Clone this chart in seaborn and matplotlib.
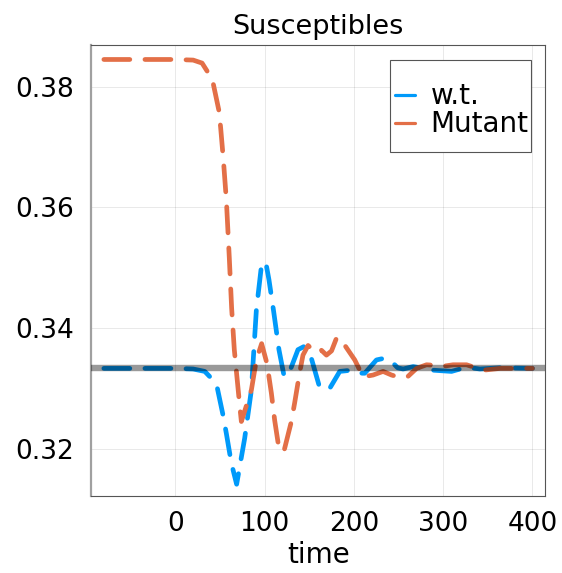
import numpy as np
import pandas as pd
import matplotlib
matplotlib.use("Agg")
import matplotlib.pyplot as plt
from matplotlib.lines import Line2D
from matplotlib.patches import Rectangle
import seaborn as sns

# ---- data ----
wt_time = [-80, 0, 20, 33, 46, 53.4, 57.2, 62.8, 68.7, 77.7, 85.2, 90.8, 96.4, 101.2,
           104.9, 110.2, 116.1, 122, 128.1, 137.4, 143.8, 150.6, 161, 167.4, 173, 184.2,
           197.3, 204.4, 212.2, 225.3, 234.6, 242.5, 249, 255.2, 266.4, 288.8, 309.4,
           326.2, 341.1, 363.6, 400]
wt_S = [0.3333, 0.3333, 0.3332, 0.3328, 0.3308, 0.3256, 0.3225, 0.3176, 0.3141, 0.3217,
        0.3297, 0.3430, 0.3502, 0.3510, 0.3480, 0.3427, 0.3364, 0.3319, 0.3328, 0.3364,
        0.3369, 0.3359, 0.3305, 0.3297, 0.3300, 0.3328, 0.3330, 0.3325, 0.3325, 0.3347,
        0.3350, 0.3344, 0.3334, 0.3332, 0.3336, 0.3330, 0.3328, 0.3335, 0.3332, 0.3334,
        0.3333]

mut_time = [-80, 0, 20, 30, 41.5, 48.9, 50.8, 53.8, 57.2, 60.5, 63.1, 66.1, 72.1, 74,
            85.2, 90.8, 96.7, 102.7, 107.6, 111.3, 115, 121.4, 130, 133.7, 139.4, 143,
            148.7, 157.3, 163.7, 169.3, 175, 180.5, 184, 201, 210.3, 221.5, 232.7, 242.2,
            251.5, 260.8, 270.2, 281.4, 291.8, 302, 311.2, 326.2, 344.8, 363.6, 400]
mut_S = [0.3845, 0.3845, 0.3844, 0.3839, 0.3812, 0.3760, 0.3732, 0.3680, 0.3612, 0.3516,
         0.3433, 0.3364, 0.3272, 0.3245, 0.3297, 0.3347, 0.3374, 0.3341, 0.3292, 0.3247,
         0.3211, 0.3194, 0.3245, 0.3276, 0.3327, 0.3355, 0.3371, 0.3359, 0.3363, 0.3355,
         0.3362, 0.3383, 0.3384, 0.3347, 0.3319, 0.3322, 0.3328, 0.3322, 0.3318, 0.3320,
         0.3333, 0.3339, 0.3338, 0.3337, 0.3339, 0.3339, 0.3330, 0.3333, 0.3333]

series_names = ["w.t.", "Mutant"]
equilibrium = 1 / 3
x_ticks = [0, 100, 200, 300, 400]
y_ticks = [0.32, 0.34, 0.36, 0.38]

df = pd.DataFrame({
    "time": wt_time + mut_time,
    "S": wt_S + mut_S,
    "series": [series_names[0]] * len(wt_time) + [series_names[1]] * len(mut_time),
})

colors = {"w.t.": "#009AFA", "Mutant": "#E36F47"}

sns.set_theme(style="white")
plt.rcParams["font.family"] = ["DejaVu Sans"]
plt.rcParams["text.color"] = "black"
plt.rcParams["axes.labelcolor"] = "black"
plt.rcParams["xtick.color"] = "black"
plt.rcParams["ytick.color"] = "black"

W, H = 562, 573
AX_L, AX_R, AX_T, AX_B = 91, 545.3, 45, 495.7
fig = plt.figure(figsize=(W / 100, H / 100), dpi=100)
ax = fig.add_axes([AX_L / W, 1 - AX_B / H, (AX_R - AX_L) / W, (AX_B - AX_T) / H])

sns.lineplot(data=df, x="time", y="S", hue="series", style="series",
             palette=colors, dashes={"w.t.": (5.5, 3.2), "Mutant": (5.5, 3.2)},
             sort=False, estimator=None, lw=3.4, legend=False, ax=ax, zorder=2)
for ln in ax.get_lines():
    ln.set_dash_capstyle("round")
    ln.set_solid_capstyle("round")

ax.axhline(equilibrium, color="black", alpha=0.4, lw=4.6, zorder=3)

ax.set_xlim(-94.4, 414.4)
ax.set_ylim(0.3122, 0.3869)
ax.set_xticks(x_ticks)
ax.set_yticks(y_ticks)
ax.set_xticklabels([str(t) for t in x_ticks])
ax.set_yticklabels([f"{t:.2f}" for t in y_ticks])
ax.grid(True, color="black", alpha=0.1, lw=0.6)
ax.tick_params(direction="in", length=3, width=0.8, labelsize=19)
ax.tick_params(axis="x", pad=11, color="#555555")
ax.tick_params(axis="y", pad=12.5, color="#555555")
for name, s in ax.spines.items():
    s.set_visible(True)
    s.set_color("#555555")
    s.set_linewidth(0.8)
ax.spines["left"].set_color("#a0a0a0")
ax.spines["left"].set_linewidth(1.6)

ax.set_title("Susceptibles", fontsize=19.5, pad=8)
ax.set_xlabel("time", fontsize=20, labelpad=3)
ax.set_ylabel("")

# legend frame drawn as a box, entries placed inside it
def ax_x(px):
    return (px - AX_L) / (AX_R - AX_L)

def ax_y(py):
    return 1 - (py - AX_T) / (AX_B - AX_T)

frame = Rectangle((ax_x(390), ax_y(151.7)), ax_x(530.7) - ax_x(390), ax_y(60) - ax_y(151.7),
                  transform=ax.transAxes, facecolor="white", edgecolor="#555555",
                  lw=0.8, zorder=5)
ax.add_patch(frame)
handles = [Line2D([0], [0], color=colors[n], lw=2.3) for n in series_names]
leg = ax.legend(handles, series_names, loc="center left",
                bbox_to_anchor=(ax_x(395), ax_y(110.5)), borderaxespad=0, borderpad=0,
                fontsize=20, handlelength=0.72, handletextpad=0.56, frameon=False,
                labelspacing=0.0)
leg.set_zorder(6)

fig.savefig("out.png", dpi=100)
